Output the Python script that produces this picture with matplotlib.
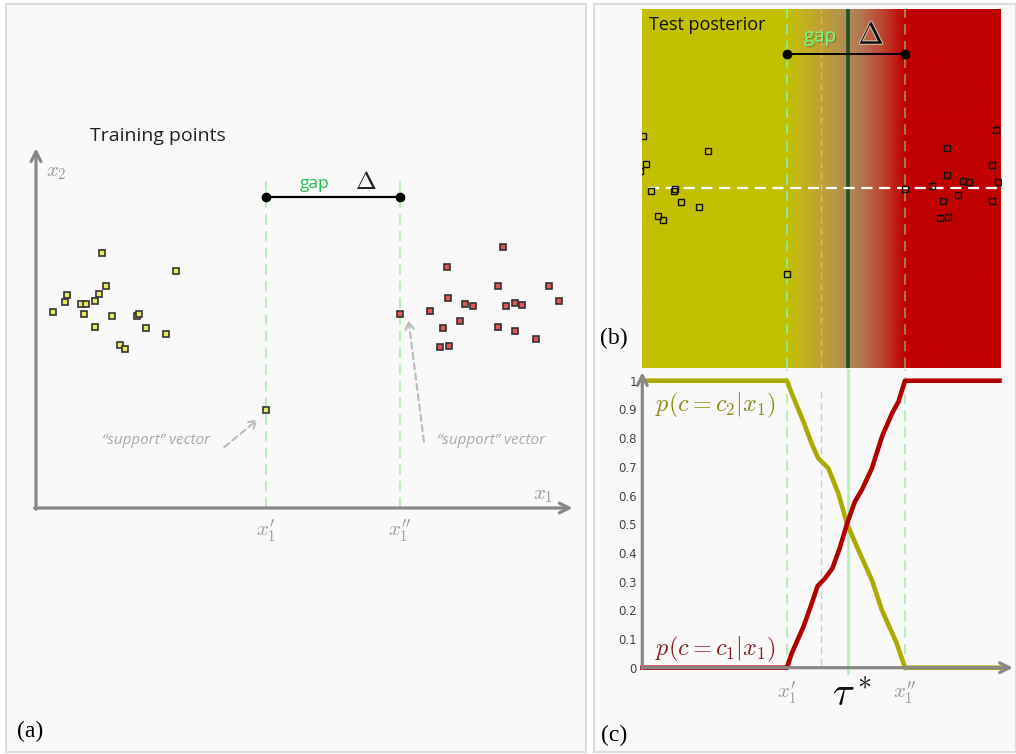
import numpy as np
import matplotlib
matplotlib.use("Agg")
import matplotlib.pyplot as plt
import matplotlib.patheffects as pe
from matplotlib.colors import LinearSegmentedColormap

plt.rcParams["mathtext.fontset"] = "cm"

W, H = 1016, 754

# --- Training points (same coordinates reused in the posterior panel) ---
yellow_x = [0.99, 2.09, 1.04, 0.94, 0.47, 0.44, 0.67, 0.74, 0.88, 0.26,
            0.71, 1.13, 1.51, 1.54, 0.88, 1.64, 1.94, 1.25, 1.33, 3.43]
yellow_y = [3.80, 3.54, 3.32, 3.20, 3.18, 3.07, 3.05, 3.05, 3.09, 2.92,
            2.90, 2.87, 2.86, 2.89, 2.70, 2.68, 2.59, 2.44, 2.37, 1.46]
red_x = [6.97, 6.14, 6.90, 7.66, 6.15, 6.41, 6.52, 7.01, 7.15, 7.25,
         7.80, 5.88, 5.43, 6.07, 6.33, 6.90, 7.15, 7.47, 6.03, 6.16]
red_y = [3.89, 3.60, 3.31, 3.31, 3.14, 3.04, 3.02, 3.01, 3.06, 3.03,
         3.09, 2.94, 2.89, 2.69, 2.79, 2.70, 2.64, 2.52, 2.41, 2.42]

X1_LEFT, X1_RIGHT = 3.43, 5.43   # x1' and x1''
TAU_STAR = 4.47
MID_DASH = 4.01
TEST_Y = 2.91

# --- Posterior curves (panel c) ---
p2_x = [0.97, 3.43, 3.51, 3.71, 3.85, 3.96, 4.13, 4.30, 4.45, 4.64,
        4.87, 5.04, 5.29, 5.43, 7.07]
p2_y = [1, 1, 0.956, 0.857, 0.78, 0.73, 0.695, 0.608, 0.5, 0.41,
        0.305, 0.2, 0.085, 0, 0]
p1_x = [0.94, 3.43, 3.51, 3.71, 3.85, 3.95, 4.07, 4.20, 4.33, 4.45,
        4.58, 4.70, 4.87, 5.04, 5.21, 5.32, 5.43, 7.07]
p1_y = [0, 0, 0.05, 0.143, 0.224, 0.285, 0.31, 0.346, 0.42, 0.503,
        0.578, 0.62, 0.695, 0.805, 0.886, 0.927, 1.0, 1.0]
prob_ticks = [0, 0.1, 0.2, 0.3, 0.4, 0.5, 0.6, 0.7, 0.8, 0.9, 1]
prob_labels = ["0", "0.1", "0.2", "0.3", "0.4", "0.5", "0.6", "0.7",
               "0.8", "0.9", "1"]


def box(x0, y0, x1, y1):
    return [x0 / W, 1 - y1 / H, (x1 - x0) / W, (y1 - y0) / H]


GREY = "#888888"
arrow_kw = dict(arrowstyle="->,head_length=0.7,head_width=0.35",
                color=GREY, lw=2.3, shrinkA=0, shrinkB=0)

fig = plt.figure(figsize=(W / 100, H / 100), dpi=100)

# ---------------- panel (a) ----------------
ax_a = fig.add_axes(box(6, 4, 586, 752))
ax_a.set_facecolor("#f9f9f9")
for s in ax_a.spines.values():
    s.set_color("#dcdcdc")
    s.set_linewidth(1.5)
ax_a.set_xticks([])
ax_a.set_yticks([])
ax_a.set_xlim((6 - 36) / 67, (586 - 36) / 67)
ax_a.set_ylim((508 - 752) / 67, (508 - 4) / 67)

ax_a.annotate("", xy=(0, 5.37), xytext=(0, -0.02), arrowprops=arrow_kw)
ax_a.annotate("", xy=(8.01, 0), xytext=(-0.02, 0), arrowprops=arrow_kw)

for xv in (X1_LEFT, X1_RIGHT):
    ax_a.plot([xv, xv], [0, 4.93], color="#b8eeb8", lw=1.5, ls=(0, (5, 3)))

ax_a.plot(yellow_x, yellow_y, "s", ms=4.8, mfc="#e8e85a", mec="#333333", mew=1.2)
ax_a.plot(red_x, red_y, "s", ms=4.8, mfc="#e05555", mec="#333333", mew=1.2)

ax_a.plot([X1_LEFT, X1_RIGHT], [4.64, 4.64], color="black", lw=1.6,
          marker="o", ms=6)
ax_a.text(4.16, 4.84, "gap", color="#22bb55", fontsize=12.5,
          family="Open Sans", ha="center", va="center")
ax_a.text(4.93, 4.86, r"$\Delta$", color="#222222", fontsize=18,
          ha="center", va="center")

ax_a.text(1.82, 5.55, "Training points", fontsize=14, family="Open Sans",
          ha="center", va="center", color="#222222")
ax_a.text(0.15, 5.02, r"$x_2$", fontsize=15, color="#999999", va="center")
ax_a.text(7.57, 0.2, r"$x_1$", fontsize=15, color="#999999",
          ha="center", va="center")
ax_a.text(X1_LEFT, -0.33, r"$x_1^{\prime}$", fontsize=15, color="#999999",
          ha="center", va="center")
ax_a.text(X1_RIGHT, -0.33, r"$x_1^{\prime\prime}$", fontsize=15,
          color="#999999", ha="center", va="center")

sv_kw = dict(fontsize=11, color="#aaaaaa", style="italic",
             family="Open Sans", ha="center", va="center")
ax_a.text(1.79, 1.0, "\u201csupport\u201d vector", **sv_kw)
ax_a.text(6.79, 1.0, "\u201csupport\u201d vector", **sv_kw)
dash_arrow = dict(arrowstyle="->,head_length=0.5,head_width=0.3",
                  color="#bbbbbb", lw=1.5, ls=(0, (3, 2)),
                  shrinkA=0, shrinkB=0)
ax_a.annotate("", xy=(3.31, 1.32), xytext=(2.81, 0.91), arrowprops=dash_arrow)
ax_a.annotate("", xy=(5.56, 2.8), xytext=(5.79, 0.99), arrowprops=dash_arrow)

ax_a.text(-0.09, -3.34, "(a)", fontsize=17, family="Liberation Serif",
          ha="center", va="center")

# ---------------- right frame ----------------
ax_r = fig.add_axes(box(594, 4, 1016, 752))
ax_r.set_facecolor("#f9f9f9")
for s in ax_r.spines.values():
    s.set_color("#dcdcdc")
    s.set_linewidth(1.5)
ax_r.set_xticks([])
ax_r.set_yticks([])
fig.text(614 / W, 1 - 338 / H, "(b)", fontsize=17, family="Liberation Serif",
         ha="center", va="center")
fig.text(614 / W, 1 - 735 / H, "(c)", fontsize=17, family="Liberation Serif",
         ha="center", va="center")

# ---------------- panel (b) ----------------
ax_b = fig.add_axes(box(642.3, 9.3, 1000.7, 368.3))
bx0, bx1 = (642.3 - 584.6) / 59, (1000.7 - 584.6) / 59
by0, by1 = (359.9 - 368.3) / 59, (359.9 - 9.3) / 59
ax_b.set_xlim(bx0, bx1)
ax_b.set_ylim(by0, by1)
ax_b.set_xticks([])
ax_b.set_yticks([])
for s in ax_b.spines.values():
    s.set_visible(False)

post_cmap = LinearSegmentedColormap.from_list("post", [
    (0.0, (194 / 255, 192 / 255, 0)),
    (0.12, (194 / 255, 180 / 255, 26 / 255)),
    (0.3, (190 / 255, 160 / 255, 52 / 255)),
    (0.5, (178 / 255, 140 / 255, 82 / 255)),
    (0.62, (180 / 255, 120 / 255, 84 / 255)),
    (0.8, (188 / 255, 72 / 255, 50 / 255)),
    (1.0, (192 / 255, 0, 0)),
])
# colour follows the position across the gap
grid_x = np.linspace(bx0, bx1, 800)
t_row = np.clip((grid_x - X1_LEFT) / (X1_RIGHT - X1_LEFT), 0, 1)
ax_b.imshow(t_row[np.newaxis, :], cmap=post_cmap, vmin=0, vmax=1,
            aspect="auto", extent=[bx0, bx1, by0, by1], interpolation="bilinear")

ax_b.axvline(X1_LEFT, color="#8fe88f", lw=1.5, ls=(0, (5, 3)))
ax_b.axvline(X1_RIGHT, color="#a07a48", lw=1.5, ls=(0, (5, 3)))
ax_b.axvline(MID_DASH, color="#d8d0c0", lw=1, ls=(0, (5, 3)), alpha=0.6)
ax_b.axvline(TAU_STAR, color="#1e5128", lw=2.6)
ax_b.plot([1.08, bx1], [TEST_Y, TEST_Y], color="white", lw=1.6,
          ls=(0, (5, 3)))

ax_b.plot(yellow_x, yellow_y, "s", ms=4.5, mfc="none", mec="#111111", mew=1.0)
ax_b.plot(red_x, red_y, "s", ms=4.5, mfc="none", mec="#111111", mew=1.0)

ax_b.plot([X1_LEFT, X1_RIGHT], [5.18, 5.18], color="black", lw=1.4,
          marker="o", ms=6)
ax_b.text(3.99, 5.48, "gap", color="#7cf07c", fontsize=13.5, family="Open Sans",
          ha="center", va="center",
          path_effects=[pe.withSimplePatchShadow(offset=(0.8, -0.8),
                                                 shadow_rgbFace="#555533",
                                                 alpha=0.6), pe.Normal()])
ax_b.text(4.86, 5.5, r"$\Delta$", color="#111111", fontsize=22,
          ha="center", va="center",
          path_effects=[pe.withStroke(linewidth=1.5, foreground="#d8c0a8")])
ax_b.text(1.09, 5.68, "Test posterior", fontsize=13, family="Open Sans",
          ha="left", va="center", color="#111111")

# ---------------- panel (c) ----------------
ax_c = fig.add_axes(box(642.3, 369, 1016, 700))
ax_c.patch.set_visible(False)
ax_c.set_xlim(bx0, (1016 - 584.6) / 59)
ax_c.set_ylim((667.7 - 700) / 287, (667.7 - 369) / 287)
for s in ax_c.spines.values():
    s.set_visible(False)
ax_c.set_xticks([])
ax_c.set_yticks(prob_ticks)
ax_c.set_yticklabels(prob_labels)
ax_c.tick_params(axis="y", length=0, pad=4, labelsize=8.5, labelcolor="#444444")

top_c = (667.7 - 369) / 287
for xv in (X1_LEFT, X1_RIGHT):
    ax_c.plot([xv, xv], [-0.01, top_c], color="#b8eeb8", lw=1.5,
              ls=(0, (5, 3)))
ax_c.plot([MID_DASH, MID_DASH], [0.01, 0.97], color="#cccccc", lw=1,
          ls=(0, (5, 3)))
ax_c.plot([TAU_STAR, TAU_STAR], [-0.02, top_c], color="#b8f0b8", lw=2)

ax_c.annotate("", xy=(bx0, 1.03), xytext=(bx0, -0.003), arrowprops=arrow_kw)
ax_c.annotate("", xy=(7.26, 0), xytext=(bx0, 0), arrowprops=arrow_kw)

ax_c.plot(p2_x, p2_y, color="#aaaa00", lw=3.3, solid_capstyle="butt", clip_on=False)
ax_c.plot(p1_x, p1_y, color="#b00000", lw=3.3, solid_capstyle="butt", clip_on=False)

ax_c.text(1.19, 0.915, r"$p(c = c_2|x_1)$", fontsize=17.5, color="#8c8c10",
          ha="left", va="center")
ax_c.text(1.19, 0.062, r"$p(c = c_1|x_1)$", fontsize=17.5, color="#8b2020",
          ha="left", va="center")
ax_c.text(X1_LEFT, -0.088, r"$x_1^{\prime}$", fontsize=15, color="#999999",
          ha="center", va="center")
ax_c.text(X1_RIGHT, -0.088, r"$x_1^{\prime\prime}$", fontsize=15,
          color="#999999", ha="center", va="center")
ax_c.text(TAU_STAR + 0.05, -0.095, r"$\tau^*$", fontsize=29, color="#111111",
          ha="center", va="center")

fig.savefig("out.png", dpi=100)
